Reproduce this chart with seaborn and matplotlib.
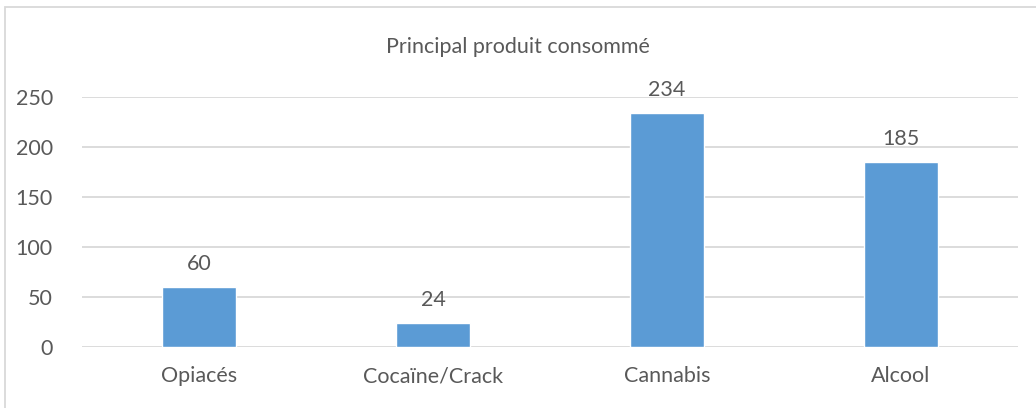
import matplotlib
matplotlib.use("Agg")
import matplotlib.pyplot as plt
import seaborn as sns
from matplotlib.patches import Rectangle

categories = ["Opiacés", "Cocaïne/Crack", "Cannabis", "Alcool"]
values = [60, 24, 234, 185]
yticks = [0, 50, 100, 150, 200, 250]
title = "Principal produit consommé"

sns.set_theme(style="white")
plt.rcParams["font.family"] = ["Lato", "DejaVu Sans"]

TEXT = "#595959"
GRID = "#D9D9D9"
BAR = "#5B9BD5"

W, H = 1036, 408
fig = plt.figure(figsize=(W / 100, H / 100), dpi=100)
ax = fig.add_axes([82 / W, (H - 346.7) / H, (1018 - 82) / W, 250 / H])

sns.barplot(x=categories, y=values, color=BAR, saturation=1, width=0.313, ax=ax)

ax.set_xlim(-0.5, len(categories) - 0.5)
ax.set_ylim(0, 250)
ax.set_yticks(yticks)
ax.set_yticklabels([str(t) for t in yticks])
ax.yaxis.grid(True, color=GRID, linewidth=1.3)
ax.set_axisbelow(True)
for s in ax.spines.values():
    s.set_visible(False)
ax.tick_params(axis="y", length=0, pad=21, labelsize=15.5, labelcolor=TEXT)
ax.tick_params(axis="x", length=0, pad=14, labelsize=15.5, labelcolor=TEXT)
ax.set_xlabel("")
ax.set_ylabel("")

for i, v in enumerate(values):
    ax.annotate(str(v), (i, v), xytext=(0, 9), textcoords="offset points",
                ha="center", va="bottom", fontsize=15.5, color=TEXT)

fig.text(0.5, 1 - 47 / H, title, ha="center", va="center", fontsize=15.5, color=TEXT)

# chart frame (left and top edges)
fig.patches.append(Rectangle((5 / W, -0.1), 1.2, 1 - 7 / H + 0.1, transform=fig.transFigure,
                             fill=False, edgecolor=GRID, linewidth=1.3))

fig.savefig("out.png", dpi=100, facecolor="white")
